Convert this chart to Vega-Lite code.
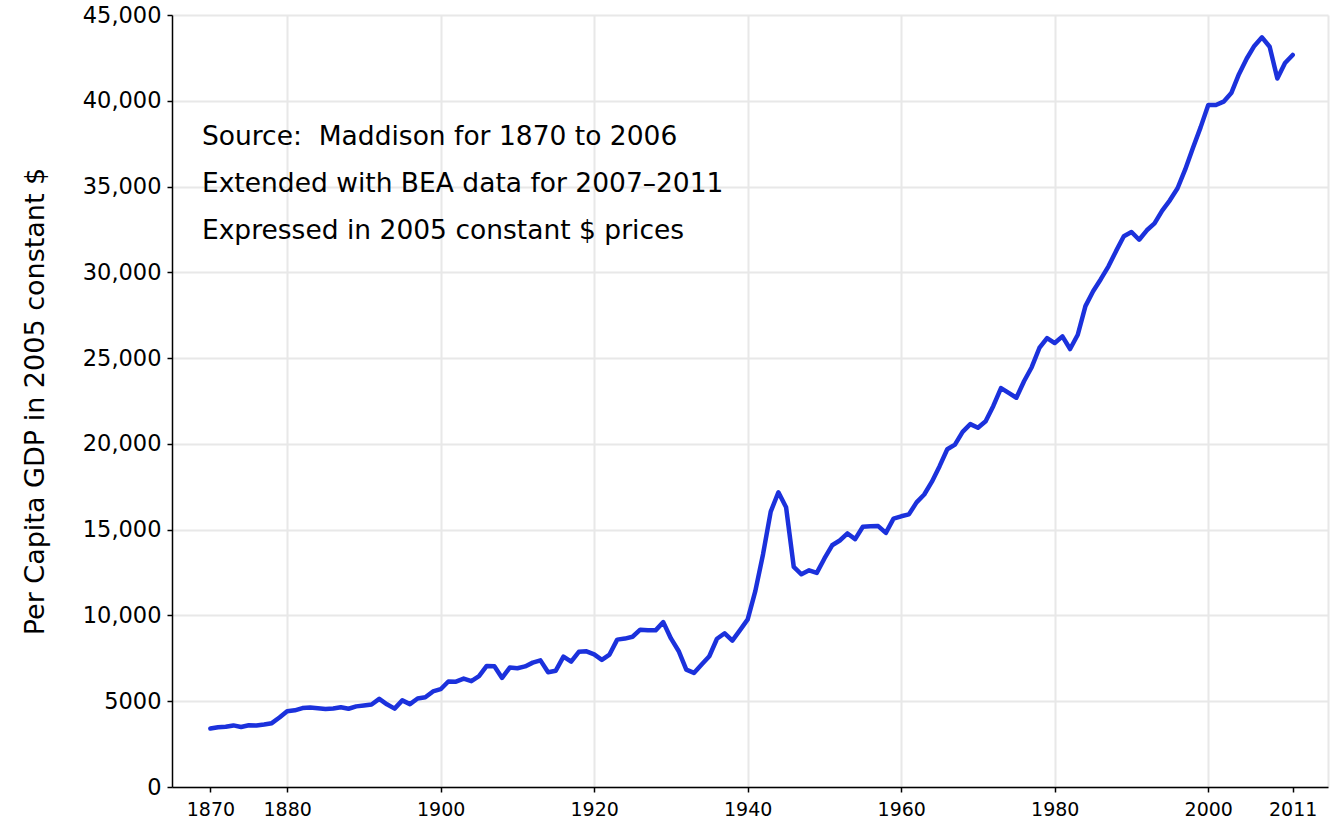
{
  "$schema": "https://vega.github.io/schema/vega-lite/v6.json",
  "width": 1156,
  "height": 772,
  "autosize": {"type": "none"},
  "padding": {"left": 172, "top": 15, "right": 8, "bottom": 35},
  "background": "white",
  "config": {"view": {"stroke": null}, "font": "DejaVu Sans"},
  "data": {"values": [
    {"year": 1870, "gdp": 3406}, {"year": 1871, "gdp": 3480}, {"year": 1872, "gdp": 3510}, {"year": 1873, "gdp": 3590},
    {"year": 1874, "gdp": 3500}, {"year": 1875, "gdp": 3600}, {"year": 1876, "gdp": 3580}, {"year": 1877, "gdp": 3640},
    {"year": 1878, "gdp": 3720}, {"year": 1879, "gdp": 4050}, {"year": 1880, "gdp": 4420}, {"year": 1881, "gdp": 4470},
    {"year": 1882, "gdp": 4600}, {"year": 1883, "gdp": 4630}, {"year": 1884, "gdp": 4590}, {"year": 1885, "gdp": 4550},
    {"year": 1886, "gdp": 4580}, {"year": 1887, "gdp": 4650}, {"year": 1888, "gdp": 4560}, {"year": 1889, "gdp": 4700},
    {"year": 1890, "gdp": 4750}, {"year": 1891, "gdp": 4810}, {"year": 1892, "gdp": 5140}, {"year": 1893, "gdp": 4820},
    {"year": 1894, "gdp": 4570}, {"year": 1895, "gdp": 5050}, {"year": 1896, "gdp": 4830}, {"year": 1897, "gdp": 5160},
    {"year": 1898, "gdp": 5230}, {"year": 1899, "gdp": 5570}, {"year": 1900, "gdp": 5700}, {"year": 1901, "gdp": 6150},
    {"year": 1902, "gdp": 6140}, {"year": 1903, "gdp": 6320}, {"year": 1904, "gdp": 6170}, {"year": 1905, "gdp": 6460},
    {"year": 1906, "gdp": 7060}, {"year": 1907, "gdp": 7040}, {"year": 1908, "gdp": 6360}, {"year": 1909, "gdp": 6960},
    {"year": 1910, "gdp": 6920}, {"year": 1911, "gdp": 7030}, {"year": 1912, "gdp": 7250}, {"year": 1913, "gdp": 7380},
    {"year": 1914, "gdp": 6690}, {"year": 1915, "gdp": 6780}, {"year": 1916, "gdp": 7600}, {"year": 1917, "gdp": 7310},
    {"year": 1918, "gdp": 7880}, {"year": 1919, "gdp": 7910}, {"year": 1920, "gdp": 7730}, {"year": 1921, "gdp": 7410},
    {"year": 1922, "gdp": 7720}, {"year": 1923, "gdp": 8590}, {"year": 1924, "gdp": 8650}, {"year": 1925, "gdp": 8760},
    {"year": 1926, "gdp": 9170}, {"year": 1927, "gdp": 9140}, {"year": 1928, "gdp": 9130}, {"year": 1929, "gdp": 9610},
    {"year": 1930, "gdp": 8660}, {"year": 1931, "gdp": 7930}, {"year": 1932, "gdp": 6840}, {"year": 1933, "gdp": 6650},
    {"year": 1934, "gdp": 7140}, {"year": 1935, "gdp": 7620}, {"year": 1936, "gdp": 8640}, {"year": 1937, "gdp": 8960},
    {"year": 1938, "gdp": 8530}, {"year": 1939, "gdp": 9140}, {"year": 1940, "gdp": 9770}, {"year": 1941, "gdp": 11430},
    {"year": 1942, "gdp": 13570}, {"year": 1943, "gdp": 16050}, {"year": 1944, "gdp": 17180}, {"year": 1945, "gdp": 16310},
    {"year": 1946, "gdp": 12830}, {"year": 1947, "gdp": 12400}, {"year": 1948, "gdp": 12630}, {"year": 1949, "gdp": 12480},
    {"year": 1950, "gdp": 13320}, {"year": 1951, "gdp": 14090}, {"year": 1952, "gdp": 14370}, {"year": 1953, "gdp": 14780},
    {"year": 1954, "gdp": 14450}, {"year": 1955, "gdp": 15170}, {"year": 1956, "gdp": 15200}, {"year": 1957, "gdp": 15210},
    {"year": 1958, "gdp": 14810}, {"year": 1959, "gdp": 15640}, {"year": 1960, "gdp": 15780}, {"year": 1961, "gdp": 15890},
    {"year": 1962, "gdp": 16590}, {"year": 1963, "gdp": 17050}, {"year": 1964, "gdp": 17800}, {"year": 1965, "gdp": 18700},
    {"year": 1966, "gdp": 19690}, {"year": 1967, "gdp": 19960}, {"year": 1968, "gdp": 20700}, {"year": 1969, "gdp": 21150},
    {"year": 1970, "gdp": 20940}, {"year": 1971, "gdp": 21320}, {"year": 1972, "gdp": 22210}, {"year": 1973, "gdp": 23250},
    {"year": 1974, "gdp": 22970}, {"year": 1975, "gdp": 22690}, {"year": 1976, "gdp": 23650}, {"year": 1977, "gdp": 24470},
    {"year": 1978, "gdp": 25590}, {"year": 1979, "gdp": 26170}, {"year": 1980, "gdp": 25880}, {"year": 1981, "gdp": 26270},
    {"year": 1982, "gdp": 25530}, {"year": 1983, "gdp": 26360}, {"year": 1984, "gdp": 28030}, {"year": 1985, "gdp": 28900},
    {"year": 1986, "gdp": 29600}, {"year": 1987, "gdp": 30350}, {"year": 1988, "gdp": 31250}, {"year": 1989, "gdp": 32100},
    {"year": 1990, "gdp": 32350}, {"year": 1991, "gdp": 31900}, {"year": 1992, "gdp": 32450}, {"year": 1993, "gdp": 32850},
    {"year": 1994, "gdp": 33600}, {"year": 1995, "gdp": 34200}, {"year": 1996, "gdp": 34900}, {"year": 1997, "gdp": 36000},
    {"year": 1998, "gdp": 37250}, {"year": 1999, "gdp": 38450}, {"year": 2000, "gdp": 39750}, {"year": 2001, "gdp": 39750},
    {"year": 2002, "gdp": 39950}, {"year": 2003, "gdp": 40450}, {"year": 2004, "gdp": 41550}, {"year": 2005, "gdp": 42450},
    {"year": 2006, "gdp": 43200}, {"year": 2007, "gdp": 43700}, {"year": 2008, "gdp": 43150}, {"year": 2009, "gdp": 41300},
    {"year": 2010, "gdp": 42200}, {"year": 2011, "gdp": 42670}
  ]},
  "layer": [
    {
      "mark": {"type": "line", "color": "#1b31dc", "strokeWidth": 4.5, "strokeJoin": "round", "strokeCap": "round"},
      "encoding": {
        "x": {
          "field": "year", "type": "quantitative",
          "scale": {"domain": [1865, 2015.6], "nice": false, "zero": false},
          "axis": {
            "orient": "bottom",
            "values": [1870, 1880, 1900, 1920, 1940, 1960, 1980, 2000, 2011],
            "format": "d", "grid": false, "title": null,
            "domainColor": "#000", "domainWidth": 1.5,
            "tickColor": "#000", "tickWidth": 1.5, "tickSize": 5,
            "labelFontSize": 19, "labelColor": "#000", "labelPadding": 8,
            "labelFlush": false, "labelOverlap": false
          }
        },
        "y": {
          "field": "gdp", "type": "quantitative",
          "scale": {"domain": [0, 45000], "nice": false},
          "axis": {
            "values": [0, 5000, 10000, 15000, 20000, 25000, 30000, 35000, 40000, 45000],
            "labelExpr": "datum.value >= 10000 ? format(datum.value, ',') : format(datum.value, 'd')",
            "grid": true, "gridColor": "#e8e8e8", "gridWidth": 2,
            "domainColor": "#000", "domainWidth": 1.5,
            "tickColor": "#000", "tickWidth": 1.5, "tickSize": 5,
            "labelFontSize": 22.5, "labelColor": "#000", "labelPadding": 6,
            "title": "Per Capita GDP in 2005 constant $",
            "titleFontSize": 27, "titleFontWeight": "normal", "titleColor": "#000",
            "titleX": -137, "titleY": 386, "titleAngle": -90,
            "titleAlign": "center", "titleBaseline": "middle"
          }
        }
      }
    },
    {
      "data": {"values": [{}]},
      "mark": {"type": "text", "align": "left", "baseline": "alphabetic", "fontSize": 26.5, "lineHeight": 47, "color": "#000"},
      "encoding": {
        "x": {
          "datum": 1868.9, "type": "quantitative",
          "axis": {
            "orient": "bottom",
            "values": [1880, 1900, 1920, 1940, 1960, 1980, 2000, 2015.6],
            "grid": true, "gridColor": "#e8e8e8", "gridWidth": 2,
            "labels": false, "ticks": false, "domain": false, "title": null
          }
        },
        "y": {"datum": 37450, "type": "quantitative"},
        "text": {"value": ["Source:\u00a0 Maddison for 1870 to 2006", "Extended with BEA data for 2007–2011", "Expressed in 2005 constant $ prices"]}
      }
    }
  ],
  "resolve": {"axis": {"x": "independent"}}
}
